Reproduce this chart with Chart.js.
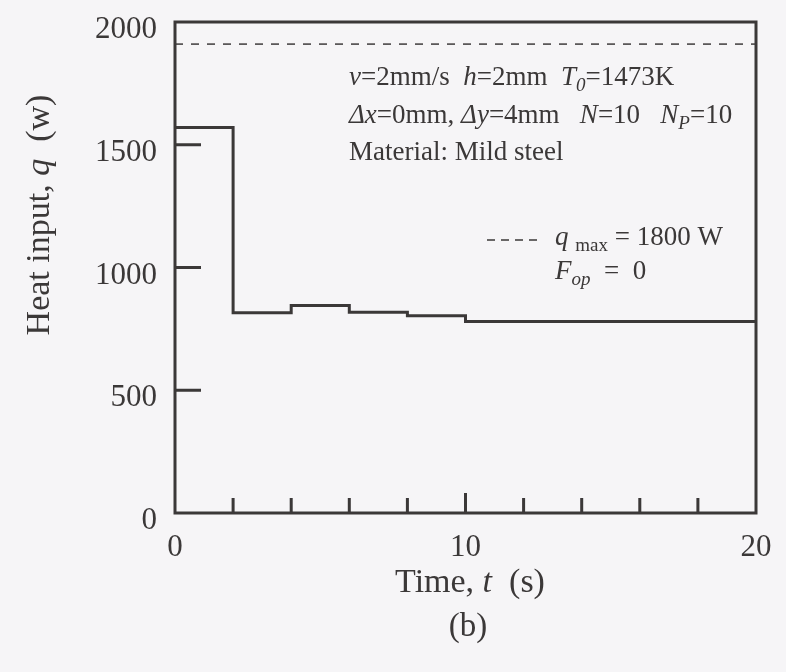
<!DOCTYPE html>
<html>
<head>
<meta charset="utf-8">
<script src="https://cdn.jsdelivr.net/npm/chart.js@4.4.1/dist/chart.umd.min.js"></script>
<style>
  html, body { margin: 0; padding: 0; background: #f6f5f7; }
  canvas { display: block; }
</style>
</head>
<body>
<canvas id="heatChart" width="786" height="672"></canvas>
<script>
// heat input steps (value holds until the next time)
const stepTimes = [0, 2, 4, 6, 8, 10, 20];
const heatInput = [1570, 816, 845, 818, 803, 780, 780];
// dashed q_max line, at the height it is drawn in the figure
const limitTimes = [0, 20];
const limitLevel = [1910, 1910];

const xTickLabels = [0, 10, 20];
const yTickLabels = [0, 500, 1000, 1500, 2000];
const xMarks = [2, 4, 6, 8, 10, 12, 14, 16, 18];
const yMarks = [500, 1000, 1500];

const SERIF = '"Liberation Serif", "Times New Roman", serif';
const INK = '#3b3838';

function fontFor(part, size) {
  const st = part[1] || '';
  const sz = st.includes('s') ? Math.round(size * 0.72) : size;
  return (st.includes('i') ? 'italic ' : '') + sz + 'px ' + SERIF;
}

// parts: [text, style]  style: i = italic, s = subscript
function drawRich(ctx, parts, x, y, size, align) {
  let w = 0;
  parts.forEach(p => { ctx.font = fontFor(p, size); w += ctx.measureText(p[0]).width; });
  let cx = align === 'center' ? x - w / 2 : x;
  ctx.textAlign = 'left';
  ctx.textBaseline = 'middle';
  parts.forEach(p => {
    ctx.font = fontFor(p, size);
    const dy = (p[1] || '').includes('s') ? size * 0.3 : 0;
    ctx.fillText(p[0], cx, y + dy);
    cx += ctx.measureText(p[0]).width;
  });
}

const decorPlugin = {
  id: 'decor',
  afterDraw(chart) {
    const ctx = chart.ctx;
    const a = chart.chartArea;
    const xs = chart.scales.x, ys = chart.scales.y;
    ctx.save();
    ctx.strokeStyle = INK;
    ctx.lineWidth = 3;
    ctx.strokeRect(a.left, a.top, a.right - a.left, a.bottom - a.top);

    // inward tick marks
    ctx.beginPath();
    xMarks.forEach(v => {
      const px = xs.getPixelForValue(v);
      const len = v === 10 ? 20 : 15;
      ctx.moveTo(px, a.bottom);
      ctx.lineTo(px, a.bottom - len);
    });
    yMarks.forEach(v => {
      const py = ys.getPixelForValue(v);
      ctx.moveTo(a.left, py);
      ctx.lineTo(a.left + 26, py);
    });
    ctx.stroke();

    ctx.fillStyle = INK;
    // axis titles
    drawRich(ctx, [['Time, '], ['t', 'i'], ['  (s)']], 470, 583, 34, 'center');
    drawRich(ctx, [['(b)']], 468, 627, 33, 'center');
    ctx.save();
    ctx.translate(40, 215);
    ctx.rotate(-Math.PI / 2);
    drawRich(ctx, [['Heat input, '], ['q', 'i'], ['  (w)']], 0, 0, 34, 'center');
    ctx.restore();

    // conditions
    drawRich(ctx, [['v', 'i'], ['=2mm/s  '], ['h', 'i'], ['=2mm  '], ['T', 'i'], ['0', 'is'], ['=1473K']], 349, 78, 27, 'left');
    drawRich(ctx, [['Δx', 'i'], ['=0mm, '], ['Δy', 'i'], ['=4mm   '], ['N', 'i'], ['=10   '], ['N', 'i'], ['P', 'is'], ['=10']], 349, 116, 27, 'left');
    drawRich(ctx, [['Material: Mild steel']], 349, 153, 27, 'left');

    // legend
    ctx.lineWidth = 1.6;
    ctx.setLineDash([8, 6]);
    ctx.beginPath();
    ctx.moveTo(487, 240);
    ctx.lineTo(542, 240);
    ctx.stroke();
    ctx.setLineDash([]);
    drawRich(ctx, [['q', 'i'], [' '], ['max', 's'], [' = 1800 W']], 555, 238, 27, 'left');
    drawRich(ctx, [['F', 'i'], ['op', 'is'], ['  =  0']], 555, 272, 27, 'left');
    ctx.restore();
  }
};

new Chart(document.getElementById('heatChart'), {
  type: 'line',
  data: {
    datasets: [
      {
        data: stepTimes.map((t, i) => ({ x: t, y: heatInput[i] })),
        stepped: true,
        borderColor: INK,
        borderWidth: 3,
        pointRadius: 0,
        fill: false
      },
      {
        data: limitTimes.map((t, i) => ({ x: t, y: limitLevel[i] })),
        borderColor: '#4a4848',
        borderWidth: 1.6,
        borderDash: [8, 8],
        pointRadius: 0,
        fill: false
      }
    ]
  },
  options: {
    responsive: false,
    devicePixelRatio: 1,
    animation: false,
    layout: { padding: { left: 0, right: 30, top: 22, bottom: 0 } },
    plugins: { legend: { display: false }, tooltip: { enabled: false } },
    scales: {
      x: {
        type: 'linear',
        min: 0,
        max: 20,
        grid: { display: false, drawTicks: false },
        border: { display: false },
        afterBuildTicks: s => { s.ticks = xTickLabels.map(v => ({ value: v })); },
        afterFit: s => { s.height = 159; s.paddingLeft = 0; s.paddingRight = 0; },
        ticks: { font: { family: SERIF, size: 31 }, color: INK, padding: 16, maxRotation: 0, callback: v => String(v) }
      },
      y: {
        min: 0,
        max: 2000,
        grid: { display: false, drawTicks: false },
        border: { display: false },
        afterBuildTicks: s => { s.ticks = yTickLabels.map(v => ({ value: v })); },
        afterFit: s => { s.width = 175; s.paddingTop = 0; s.paddingBottom = 0; },
        ticks: { font: { family: SERIF, size: 31 }, color: INK, padding: 18, labelOffset: 8, callback: v => String(v) }
      }
    }
  },
  plugins: [decorPlugin]
});
</script>
</body>
</html>
